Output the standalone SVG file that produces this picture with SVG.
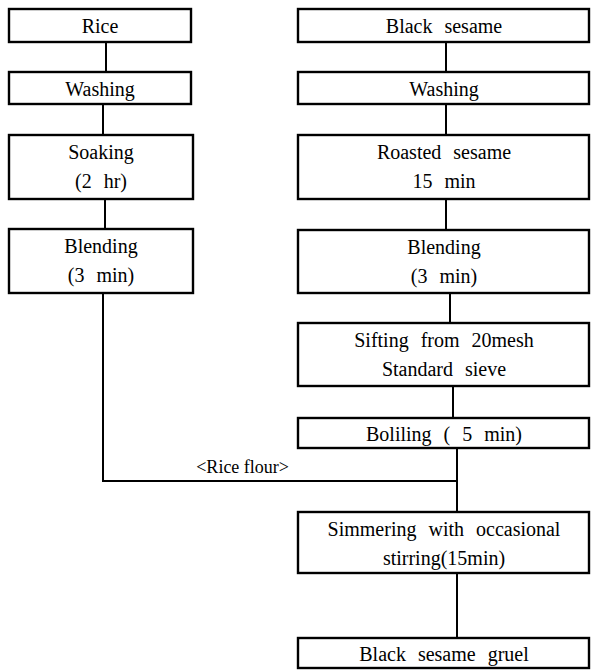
<svg xmlns="http://www.w3.org/2000/svg" width="592" height="670" viewBox="0 0 592 670">
<style>
.box{fill:#fff;stroke:#000;stroke-width:2.4}
.t{font-size:20px;fill:#000;text-anchor:middle;word-spacing:7px}
.c{fill:none;stroke:#000;stroke-width:2}
.lbl{font-size:18px;fill:#000;text-anchor:end}
</style>
<rect width="592" height="670" fill="#fff"/>
<g id="connectors" font-family="Liberation Serif, DejaVu Serif, serif">
<line class="c" x1="106" y1="42" x2="106" y2="72"/>
<line class="c" x1="103" y1="104" x2="103" y2="135"/>
<line class="c" x1="105" y1="199" x2="105" y2="229"/>
<polyline class="c" points="103,293 103,481 457,481"/>
<line class="c" x1="446" y1="42" x2="446" y2="72"/>
<line class="c" x1="446" y1="104" x2="446" y2="135"/>
<line class="c" x1="446" y1="199" x2="446" y2="230"/>
<line class="c" x1="450" y1="293" x2="450" y2="323"/>
<line class="c" x1="453" y1="386" x2="453" y2="418"/>
<line class="c" x1="457" y1="448" x2="457" y2="512"/>
<line class="c" x1="457" y1="573" x2="457" y2="638"/>
<text class="lbl" x="289" y="473">&lt;Rice flour&gt;</text>
</g>
<g font-family="Liberation Serif, DejaVu Serif, serif">
<g id="rice"><rect class="box" x="9" y="9" width="182" height="33"/><text class="t" x="100" y="33">Rice</text></g>
<g id="washing1"><rect class="box" x="9" y="72" width="182" height="32"/><text class="t" x="100" y="96">Washing</text></g>
<g id="soaking"><rect class="box" x="9" y="135" width="184" height="64"/><text class="t" x="101" y="159">Soaking</text><text class="t" x="101" y="188">(2 hr)</text></g>
<g id="blending1"><rect class="box" x="9" y="229" width="184" height="64"/><text class="t" x="101" y="253">Blending</text><text class="t" x="101" y="282">(3 min)</text></g>
<g id="black-sesame"><rect class="box" x="298" y="9" width="291" height="33"/><text class="t" x="444" y="33">Black sesame</text></g>
<g id="washing2"><rect class="box" x="298" y="72" width="291" height="32"/><text class="t" x="444" y="96">Washing</text></g>
<g id="roasted"><rect class="box" x="298" y="135" width="291" height="64"/><text class="t" x="444" y="159">Roasted sesame</text><text class="t" x="444" y="188">15 min</text></g>
<g id="blending2"><rect class="box" x="298" y="230" width="291" height="63"/><text class="t" x="444" y="254">Blending</text><text class="t" x="444" y="283">(3 min)</text></g>
<g id="sifting"><rect class="box" x="298" y="323" width="291" height="63"/><text class="t" x="444" y="347">Sifting from 20mesh</text><text class="t" x="444" y="376">Standard sieve</text></g>
<g id="boiling"><rect class="box" x="298" y="418" width="291" height="30"/><text class="t" x="444" y="441">Boliling ( 5 min)</text></g>
<g id="simmering"><rect class="box" x="298" y="512" width="291" height="61"/><text class="t" x="444" y="536">Simmering with occasional</text><text class="t" x="444" y="565">stirring(15min)</text></g>
<g id="gruel"><rect class="box" x="298" y="638" width="291" height="30"/><text class="t" x="444" y="661">Black sesame gruel</text></g>
</g>
</svg>
